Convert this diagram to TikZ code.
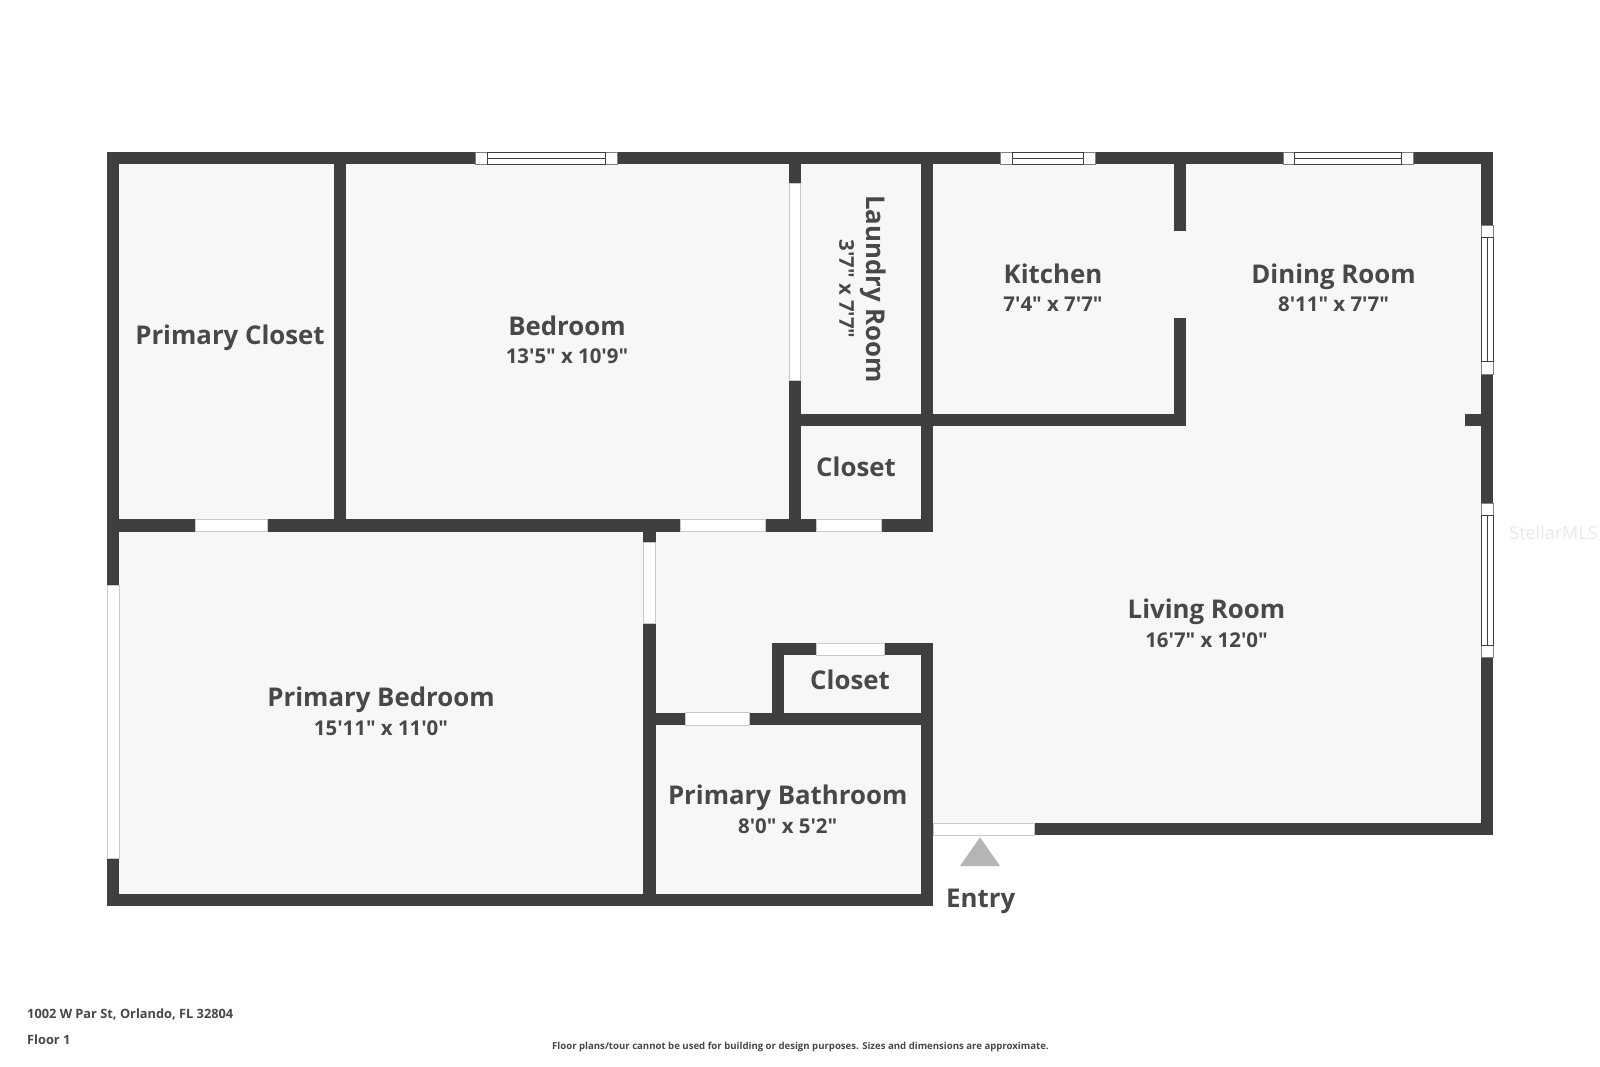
\documentclass[tikz,border=0pt]{standalone}
\usepackage{fontspec}
\setmainfont{Open Sans}
\newfontfamily\semib{Open Sans Bold}[BoldFont={Open Sans Bold}]
\definecolor{wallc}{HTML}{3F3F3F}
\definecolor{floorc}{HTML}{F7F7F7}
\definecolor{textc}{HTML}{484848}
\definecolor{doorline}{HTML}{C8C8C8}
\definecolor{capline}{HTML}{808080}
\definecolor{tric}{HTML}{B5B5B5}
\definecolor{markc}{HTML}{E9E9E9}
\tikzset{
  wall/.style={fill=wallc,draw=none},
  opening/.style={fill=white,draw=doorline,line width=0.8pt},
  winbox/.style={fill=white,draw=capline,line width=0.8pt},
  winline/.style={draw=wallc,line width=0.9pt},
  room/.style={anchor=base,text=textc,inner sep=0pt,font=\semib\fontsize{25.8}{30}\selectfont},
  dims/.style={anchor=base,text=textc,inner sep=0pt,font=\semib\fontsize{20.4}{24}\selectfont},
  foot/.style={anchor=base west,text=textc,inner sep=0pt,font=\semib\fontsize{12.8}{15}\selectfont},
  fine/.style={anchor=base west,text=textc,inner sep=0pt,font=\semib\fontsize{9.6}{12}\selectfont},
}
% top-edge window: x0 x1 outer, xa xb frame
\newcommand{\topwin}[4]{%
  \draw[winbox] (#1,152) rectangle (#2,164);
  \draw[winline] (#3,152) rectangle (#4,164);
  \draw[winline] (#3,158) -- (#4,158);
}
% right-edge window: y0 y1 outer, ya yb frame
\newcommand{\rightwin}[4]{%
  \draw[winbox] (1481,#1) rectangle (1493,#2);
  \draw[winline] (1481,#3) rectangle (1493,#4);
  \draw[winline] (1487,#3) -- (1487,#4);
}
\begin{document}
\begin{tikzpicture}[x=1pt,y=-1pt]
\useasboundingbox[fill=white] (0,0) rectangle (1600,1066);
% floor
\fill[floorc] (107,152) -- (1493,152) -- (1493,835) -- (933,835) -- (933,906) -- (107,906) -- cycle;
% walls
\fill[wall] (107,152) rectangle (1493,164);
\fill[wall] (107,152) rectangle (119.2,906);
\fill[wall] (1481,152) rectangle (1493,835);
\fill[wall] (107,894.3) rectangle (933,906);
\fill[wall] (933,823.3) rectangle (1493,835.3);
\fill[wall] (333.5,152) rectangle (346,531.7);
\fill[wall] (107,519.3) rectangle (933,531.7);
\fill[wall] (789,152) rectangle (800.7,531.7);
\fill[wall] (921,152) rectangle (933,531.7);
\fill[wall] (789,414.3) rectangle (1186.2,426);
\fill[wall] (1174.4,152) rectangle (1186.2,231);
\fill[wall] (1174.4,318) rectangle (1186.2,426);
\fill[wall] (1464.7,414.3) rectangle (1481,426);
\fill[wall] (643.3,519.3) rectangle (655.7,906);
\fill[wall] (643.3,712.7) rectangle (933,725);
\fill[wall] (920.7,643.3) rectangle (932.7,906);
\fill[wall] (771.7,643.3) rectangle (932.7,655.3);
\fill[wall] (771.7,643.3) rectangle (783.7,725);
% doors / openings
\draw[opening] (195,519.3) rectangle (267.4,531.7);
\draw[opening] (680,519.3) rectangle (765,531.7);
\draw[opening] (816,519.3) rectangle (881,531.7);
\draw[opening] (816.7,643.3) rectangle (884.3,655.3);
\draw[opening] (685.3,712.7) rectangle (749,725);
\draw[opening] (933.3,823.3) rectangle (1034,835.3);
\draw[opening] (789,183.7) rectangle (800.7,380);
\draw[opening] (643.3,542) rectangle (655.7,623.3);
\draw[opening] (107,585.7) rectangle (119.2,858);
% windows
\topwin{475}{617}{487}{605}
\topwin{1000.3}{1095.6}{1012.6}{1083.4}
\topwin{1283}{1413}{1294.8}{1401.4}
\rightwin{225.7}{374}{237.3}{361.7}
\rightwin{503.3}{657.7}{515.7}{645}
% entry marker
\fill[tric] (980,837.3) -- (1000,866) -- (960,866) -- cycle;
% labels
\node[room] (lpc) at (230,344.5) {Primary Closet};
\node[room] (lbr) at (567,335.5) {Bedroom};
\node[dims] (dbr) at (567,363.3) {13'5" x 10'9"};
\node[room] (lki) at (1053,283) {Kitchen};
\node[dims] (dki) at (1053,311.3) {7'4" x 7'7"};
\node[room] (ldr) at (1333.5,283) {Dining Room};
\node[dims] (ddr) at (1333.5,311.3) {8'11" x 7'7"};
\node[room,rotate=-90] (llr) at (866,289) {Laundry Room};
\node[dims,rotate=-90] (dlr) at (839.4,289) {3'7" x 7'7"};
\node[room] (lc1) at (856,476.7) {Closet};
\node[room] (lc2) at (850,689.5) {Closet};
\node[room] (lbt) at (787.7,804.5) {Primary Bathroom};
\node[dims] (dbt) at (787.7,833) {8'0" x 5'2"};
\node[room] (len) at (980.7,907.5) {Entry};
\node[room] (lli) at (1206.5,618.5) {Living Room};
\node[dims] (dli) at (1206.5,647) {16'7" x 12'0"};
\node[room] (lpb) at (381,706.5) {Primary Bedroom};
\node[dims] (dpb) at (381,735.7) {15'11" x 11'0"};
% footer
\node[foot] (addr) at (27,1018) {1002 W Par St, Orlando, FL 32804};
\node[foot] (flr) at (27,1044.5) {Floor 1};
\node[fine] (disc) at (552,1049) {Floor plans/tour cannot be used for building or design purposes. Sizes and dimensions are approximate.};
\node[anchor=base,text=markc,inner sep=0pt,font=\fontsize{18}{20}\selectfont] (wm) at (1553.5,539) {StellarMLS};
\end{tikzpicture}
\end{document}
